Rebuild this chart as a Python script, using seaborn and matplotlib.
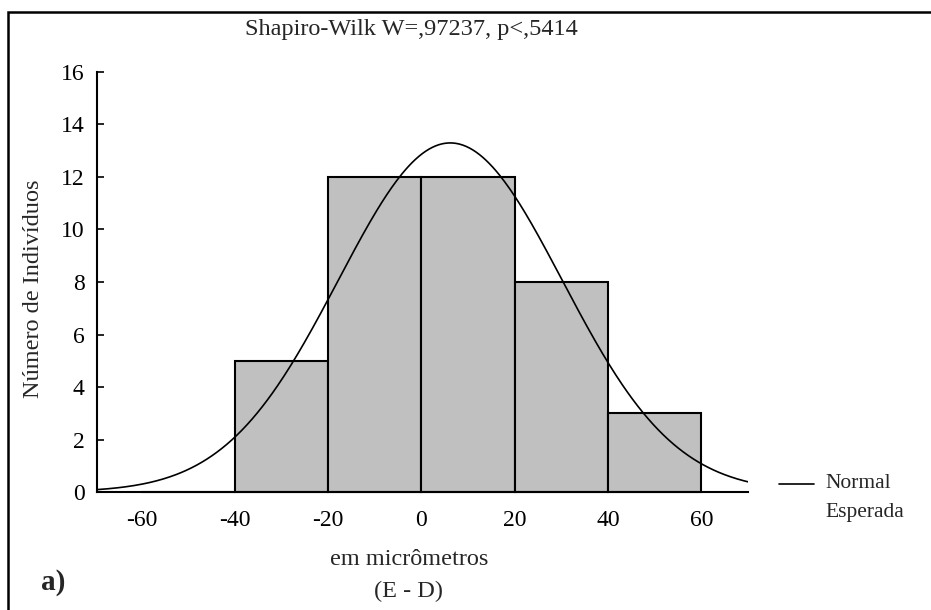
import numpy as np
import pandas as pd
import matplotlib
matplotlib.use("Agg")
import matplotlib.pyplot as plt
from matplotlib.lines import Line2D
from matplotlib.patches import Rectangle
import seaborn as sns

# Histogram of left-right differences (E - D), in micrometres
bin_edges = [-60, -40, -20, 0, 20, 40, 60]
bin_counts = [0, 5, 12, 12, 8, 3]
x_ticks = [-60, -40, -20, 0, 20, 40, 60]
y_ticks = [0, 2, 4, 6, 8, 10, 12, 14, 16]

# Parameters of the fitted normal curve
fit_mean = 6.2
fit_sd = 24.0

title_text = "Shapiro-Wilk W=,97237, p<,5414"
x_label = "em micrômetros"
x_label2 = "(E - D)"
y_label = "Número de Indivíduos"
legend_lines = ["Normal", "Esperada"]
panel_tag = "a)"

sns.set_theme(style="white")
plt.rcParams["font.family"] = ["Liberation Serif", "DejaVu Serif"]

fig = plt.figure(figsize=(9.31, 6.10), dpi=100)
ax = fig.add_axes([0.1042, 0.1934, 0.6992, 0.6886])

centers = [(a + b) / 2 for a, b in zip(bin_edges[:-1], bin_edges[1:])]
hist_df = pd.DataFrame({"diff": centers, "count": bin_counts})
sns.histplot(data=hist_df, x="diff", weights="count", bins=bin_edges,
             color="#c0c0c0", alpha=1, edgecolor="black", linewidth=1.5,
             ax=ax)
for p in ax.patches:
    p.set_clip_on(False)

# Expected normal counts per bin
n_total = sum(bin_counts)
bin_width = bin_edges[1] - bin_edges[0]
xs = np.linspace(-72, 72, 400)
expected = n_total * bin_width * np.exp(-0.5 * ((xs - fit_mean) / fit_sd) ** 2) / (fit_sd * np.sqrt(2 * np.pi))
curve_df = pd.DataFrame({"x": xs, "y": expected})
sns.lineplot(data=curve_df, x="x", y="y", color="black", linewidth=1.2, ax=ax)

ax.set_xlim(-69.5, 70)
ax.set_ylim(0, 16)
ax.set_xticks(x_ticks)
ax.set_xticklabels([str(v) for v in x_ticks])
ax.set_yticks(y_ticks)
ax.set_yticklabels([str(v) for v in y_ticks])
ax.set_xlabel("")
ax.set_ylabel("")
for side in ["top", "right"]:
    ax.spines[side].set_visible(False)
for side in ["left", "bottom"]:
    ax.spines[side].set_color("black")
    ax.spines[side].set_linewidth(1.5)
ax.tick_params(axis="y", direction="in", length=5, width=1.2, color="black",
               left=True, labelsize=17, pad=9, labelcolor="black")
ax.tick_params(axis="x", length=0, labelsize=17, pad=13, labelcolor="black")
ax.grid(False)

# Titles and labels
fig.text(0.442, 0.951, title_text, ha="center", va="center", fontsize=17.5)
fig.text(0.036, 0.527, y_label, ha="center", va="center", rotation=90, fontsize=17.5)
fig.text(0.439, 0.083, x_label, ha="center", va="center", fontsize=17.5)
fig.text(0.439, 0.030, x_label2, ha="center", va="center", fontsize=17.5)
fig.text(0.044, 0.045, panel_tag, ha="left", va="center", fontsize=21, fontweight="bold")

# Legend for the expected curve
fig.lines.append(Line2D([0.837, 0.874], [0.207, 0.207], color="black", linewidth=1.2,
                        transform=fig.transFigure))
fig.text(0.887, 0.207, legend_lines[0], ha="left", va="center", fontsize=15.5)
fig.text(0.887, 0.160, legend_lines[1], ha="left", va="center", fontsize=15.5)

# Frame around the panel
fig.patches.append(Rectangle((0.0086, -0.05), 1.1, 1.03, fill=False,
                             edgecolor="black", linewidth=1.8,
                             transform=fig.transFigure))

fig.savefig("out.png", dpi=100)
